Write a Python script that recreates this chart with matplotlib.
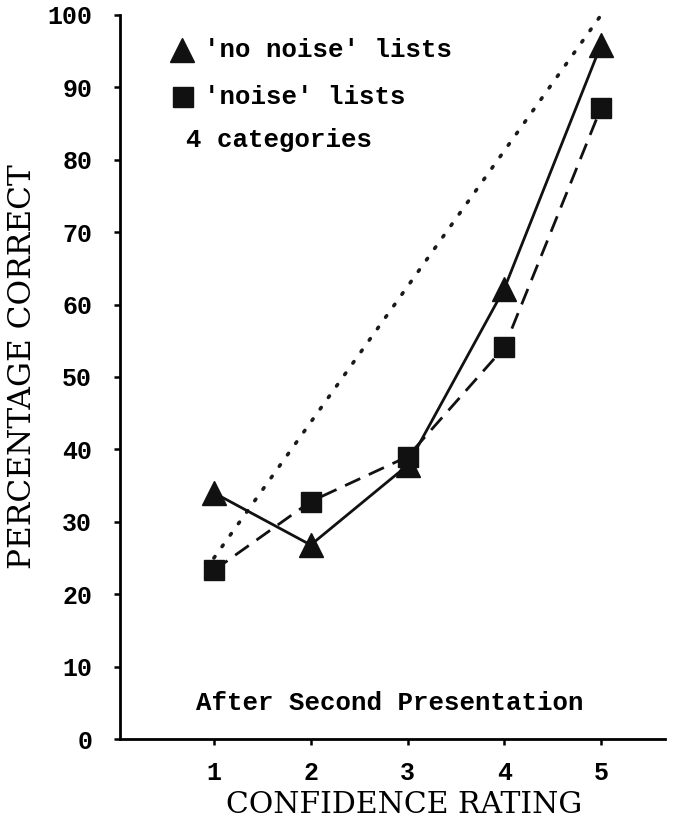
import matplotlib
matplotlib.use("Agg")
import matplotlib.pyplot as plt

# Data
ratings = [1, 2, 3, 4, 5]
no_noise = [34.0, 26.8, 37.8, 62.2, 95.9]
noise = [23.3, 32.8, 39.0, 54.1, 87.2]
ideal_x = [1, 5]
ideal_y = [25, 100]
y_ticks = [0, 10, 20, 30, 40, 50, 60, 70, 80, 90, 100]

fig = plt.figure(figsize=(6.73, 8.21), dpi=100)
ax = fig.add_axes([120/673, 1-739/821, 545/673, 724/821])

ax.plot(ideal_x, ideal_y, color='#1a1a1a', lw=2.6, linestyle=(0, (0.5, 3.4)),
        dash_capstyle='round')
ax.plot(ratings, noise, color='#111111', lw=2.0, linestyle=(0, (6, 3.4)),
        marker='s', markersize=15, markerfacecolor='#111111', markeredgecolor='#111111')
ax.plot(ratings, no_noise, color='#111111', lw=2.0, linestyle='-',
        marker='^', markersize=17, markerfacecolor='#111111', markeredgecolor='#111111')

ax.set_xlim(0.03, 5.66)
ax.set_ylim(0, 100)
ax.spines['top'].set_visible(False)
ax.spines['right'].set_visible(False)
ax.spines['left'].set_linewidth(2.0)
ax.spines['bottom'].set_linewidth(2.0)

mono = ['Liberation Mono', 'DejaVu Sans Mono']
tick_font = dict(family=mono, size=18, weight='bold')
ax.set_yticks(y_ticks)
ax.set_yticklabels([str(v) for v in y_ticks], **tick_font)
ax.set_xticks(ratings)
ax.set_xticklabels([str(v) for v in ratings], **tick_font)
ax.tick_params(axis='y', direction='out', length=4, width=1.8, pad=16)
ax.tick_params(axis='x', direction='out', length=4, width=1.8, pad=12)

ax.set_xlabel('CONFIDENCE RATING', family='DejaVu Serif', size=21.5)
ax.xaxis.set_label_coords(0.521, -0.072)
ax.set_ylabel('PERCENTAGE CORRECT', family='DejaVu Serif', size=22.5)
ax.yaxis.set_label_coords(-0.15, 0.515)

text_font = dict(family=mono, size=18.5, weight='bold')
ax.text(0.495, 0.05, 'After Second Presentation', transform=ax.transAxes,
        ha='center', va='center', **text_font)

# Legend-like annotations
ax.plot([0.114], [0.952], marker='^', markersize=17, color='#111111',
        transform=ax.transAxes, clip_on=False)
ax.text(0.155, 0.952, "'no noise' lists", transform=ax.transAxes,
        ha='left', va='center', **text_font)
ax.plot([0.116], [0.887], marker='s', markersize=15, color='#111111',
        transform=ax.transAxes, clip_on=False)
ax.text(0.155, 0.887, "'noise' lists", transform=ax.transAxes,
        ha='left', va='center', **text_font)
ax.text(0.121, 0.827, "4 categories", transform=ax.transAxes,
        ha='left', va='center', **text_font)

fig.savefig('out.png', dpi=100)
